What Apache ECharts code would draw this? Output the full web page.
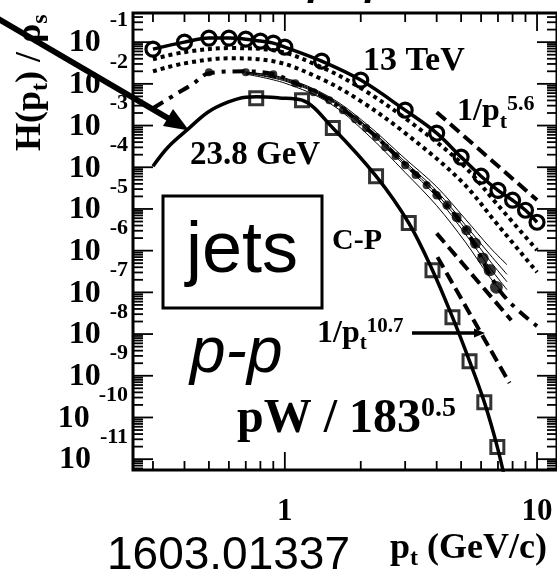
<!DOCTYPE html>
<html>
<head>
<meta charset="utf-8">
<script src="https://cdn.jsdelivr.net/npm/echarts@6/dist/echarts.min.js"></script>
<style>
html, body { margin: 0; padding: 0; background: #fff; }
#chart { width: 557px; height: 588px; }
</style>
</head>
<body>
<div id="chart"></div>
<script>
// Axis ranges (log-log)
const ptRange = [0.25, 12];
const hRange = [5.5e-12, 0.5];

// Tick definitions: decades and the multipliers drawn inside each decade
const tickDecades = [-12, -11, -10, -9, -8, -7, -6, -5, -4, -3, -2, -1, 0, 1];
const tickMultipliers = [1, 2, 3, 4, 5, 6, 7, 8, 9];
const xLabelValues = [1, 10];

// 13 TeV points
const pt13 = [0.3, 0.4, 0.5, 0.6, 0.7, 0.8, 0.9, 1.0, 1.4, 2, 3, 4, 5, 6, 7, 8, 9, 10];
const h13 = [6.8e-2, 0.1, 0.125, 0.125, 0.118, 0.106, 0.0946, 0.076, 0.035, 0.0123, 2.34e-3,
             6.6e-4, 1.75e-4, 6.1e-5, 2.8e-5, 1.62e-5, 9.3e-6, 4.8e-6];

// two dotted curves below the 13 TeV data
const ptDotA = [0.3, 0.4, 0.6, 0.9, 1.4, 2, 3, 5, 7, 10];
const hDotA = [3.9e-2, 5.75e-2, 7.2e-2, 6.4e-2, 2.5e-2, 7.9e-3, 1.5e-3, 1.26e-4, 1.23e-5, 1.03e-6];
const ptDotB = [0.3, 0.4, 0.6, 0.9, 1.4, 2, 3, 5, 7, 10];
const hDotB = [2.0e-2, 3.1e-2, 4.1e-2, 3.5e-2, 1.3e-2, 3.85e-3, 6.6e-4, 4.7e-5, 4.1e-6, 3.05e-7];

// dash-dot curve
const ptDashDot = [0.3, 0.37, 0.43, 0.5, 0.7, 0.9, 1.1, 1.5, 2.1, 3.0, 4.0, 5.2, 7.2, 10];
const hDashDot = [2.6e-3, 5.66e-3, 9.8e-3, 1.8e-2, 2.0e-2, 1.71e-2, 1.04e-2, 4.06e-3, 8.7e-4,
                  1.19e-4, 2.26e-5, 3.3e-6, 1.0e-7, 1.55e-8];

// filled points (C-P)
const ptCP = [0.5, 0.7, 0.9, 1.1, 1.3, 1.5, 1.7, 1.9, 2.1, 2.3, 2.5, 2.75, 3.0, 3.3, 3.65, 4.0,
              4.4, 4.8, 5.25, 5.7, 6.1, 6.5, 6.9];
const hCP = [1.91e-2, 1.91e-2, 1.71e-2, 1.04e-2, 6.3e-3, 4.06e-3, 2.34e-3, 1.42e-3, 8.7e-4, 5.3e-4,
             3.03e-4, 1.85e-4, 1.12e-4, 6.5e-5, 3.7e-5, 2.14e-5, 1.23e-5, 6.3e-6, 3.1e-6, 1.5e-6,
             6.6e-7, 3.4e-7, 1.32e-7];

// thin C-P fit curves
const ptCPFit = [0.7, 1.0, 1.5, 2.1, 3.0, 4.0, 5.2, 6.5, 7.6];
const hCPFit1 = [1.91e-2, 1.38e-2, 4.9e-3, 1.11e-3, 1.6e-4, 3.4e-5, 5.7e-6, 1.2e-6, 4.6e-7];
const hCPFit2 = [1.91e-2, 1.31e-2, 4.6e-3, 9.9e-4, 1.35e-4, 2.7e-5, 4.1e-6, 8.1e-7, 2.7e-7];
const hCPFit3 = [1.8e-2, 1.24e-2, 4.4e-3, 9.3e-4, 1.2e-4, 2.3e-5, 3.3e-6, 5.7e-7, 1.8e-7];
const hCPFit4 = [1.8e-2, 1.17e-2, 4.2e-3, 8.3e-4, 1.08e-4, 1.94e-5, 2.5e-6, 3.9e-7, 1.16e-7];
const hCPFit5 = [1.71e-2, 1.04e-2, 3.5e-3, 6.6e-4, 7.5e-5, 1.2e-5, 1.6e-6, 2.3e-7, 7.4e-8];

// power-law guide lines
const ptPow56 = [4.0, 10];
const hPow56 = [2.09e-3, 1.63e-5];
const ptPowMid = [4.0, 7.9];
const hPowMid = [2.6e-6, 2.15e-8];
const ptPow107 = [4.03, 7.78];
const hPow107 = [7.0e-7, 6.7e-10];

// 23.8 GeV points and curve
const pt238 = [0.77, 1.17, 1.55, 2.3, 3.1, 3.85, 4.62, 5.4, 6.18, 6.96];
const h238 = [4.5e-3, 4.06e-3, 8.7e-4, 6.1e-5, 4.6e-6, 3.4e-7, 2.54e-8, 2.24e-9, 2.33e-10, 1.95e-11];
const pt238Fit = [0.3, 0.344, 0.413, 0.495, 0.594, 0.7, 0.77, 0.95, 1.17, 1.55, 2.3, 3.1, 3.85,
                  4.62, 5.4, 6.18, 6.96, 7.6];
const h238Fit = [1.06e-4, 3.03e-4, 8.2e-4, 2.09e-3, 3.64e-3, 4.8e-3, 4.9e-3, 4.6e-3, 4.06e-3,
                 8.7e-4, 6.1e-5, 4.6e-6, 3.4e-7, 2.54e-8, 2.24e-9, 2.33e-10, 1.95e-11, 2e-12];

const SERIF = '"Liberation Serif", "Times New Roman", serif';
const SANS = '"Liberation Sans", Arial, sans-serif';

function pairs(xs, ys) { return xs.map((x, i) => [x, ys[i]]); }
function isDecade(v) {
  const e = Math.log10(v);
  return Math.abs(e - Math.round(e)) < 1e-9;
}

// tick values inside each axis range
const xTicks = [], yTicks = [];
tickDecades.forEach(d => tickMultipliers.forEach(m => {
  const v = m * Math.pow(10, d);
  if (v > ptRange[0] * 1.0001 && v < ptRange[1] * 0.9999) xTicks.push([v, hRange[0]]);
  if (v > hRange[0] * 1.0001 && v < hRange[1] * 0.9999) yTicks.push([ptRange[0], v]);
}));

function lineStyleSeries(name, xs, ys, lineStyle, extra) {
  return Object.assign({
    name, type: 'line', data: pairs(xs, ys), showSymbol: false, symbol: 'none',
    lineStyle: Object.assign({ color: '#000' }, lineStyle), smooth: 0.35, silent: true
  }, extra || {});
}

const chart = echarts.init(document.getElementById('chart'), null, { renderer: 'canvas' });

const option = {
  animation: false,
  backgroundColor: '#fff',
  grid: {
    left: 133, top: 13, width: 424.7, height: 457,
    show: true, borderColor: '#000', borderWidth: 3, backgroundColor: 'transparent'
  },
  xAxis: {
    type: 'log', logBase: 10, min: ptRange[0], max: ptRange[1],
    axisLine: { show: false }, axisTick: { show: false }, axisLabel: { show: false },
    splitLine: { show: false }, minorTick: { show: false }
  },
  yAxis: {
    type: 'log', logBase: 10, min: hRange[0], max: hRange[1],
    axisLine: { show: false }, axisTick: { show: false }, axisLabel: { show: false },
    splitLine: { show: false }, minorTick: { show: false }
  },
  series: [
    // y ticks on both sides, with 10^n labels on the left
    {
      type: 'custom', silent: true, clip: false, data: yTicks,
      renderItem(params, api) {
        const cs = params.coordSys;
        const v = api.value(1);
        const y = api.coord([api.value(0), v])[1];
        const major = isDecade(v);
        const len = major ? 20 : 10;
        const lw = 1.8;
        const children = [
          { type: 'line', shape: { x1: cs.x, y1: y, x2: cs.x + len, y2: y }, style: { stroke: '#000', lineWidth: lw } },
          { type: 'line', shape: { x1: cs.x + cs.width, y1: y, x2: cs.x + cs.width - len, y2: y }, style: { stroke: '#000', lineWidth: lw } }
        ];
        if (major) {
          const e = Math.round(Math.log10(v));
          children.push({
            type: 'text', x: cs.x - 5, y: y,
            style: {
              text: '{b|10}{s|' + e + '}',
              align: 'right', verticalAlign: 'middle', fill: '#000',
              rich: {
                b: { fontFamily: SERIF, fontWeight: 'bold', fontSize: 32, lineHeight: 32, padding: [2, 9, 0, 0], fill: '#000' },
                s: { fontFamily: SERIF, fontWeight: 'bold', fontSize: 22, lineHeight: 22, padding: [0, 0, 44, 0], fill: '#000' }
              }
            }
          });
        }
        return { type: 'group', children };
      }
    },
    // x ticks on bottom and top, labels at decades
    {
      type: 'custom', silent: true, clip: false, data: xTicks,
      renderItem(params, api) {
        const cs = params.coordSys;
        const v = api.value(0);
        const x = api.coord([v, api.value(1)])[0];
        const major = isDecade(v);
        const len = major ? 18 : 9;
        const lw = 1.8;
        const bottom = cs.y + cs.height;
        const children = [
          { type: 'line', shape: { x1: x, y1: bottom, x2: x, y2: bottom - len }, style: { stroke: '#000', lineWidth: lw } },
          { type: 'line', shape: { x1: x, y1: cs.y, x2: x, y2: cs.y + len }, style: { stroke: '#000', lineWidth: lw } }
        ];
        if (xLabelValues.some(l => Math.abs(l - v) < 1e-9)) {
          children.push({
            type: 'text', x: x, y: bottom + 42,
            style: { text: String(Math.round(v)), align: 'center', verticalAlign: 'middle', fill: '#000',
                     font: 'bold 31px ' + SERIF }
          });
        }
        return { type: 'group', children };
      }
    },
    lineStyleSeries('dotted A', ptDotA, hDotA, { width: 4, type: [4, 4] }),
    lineStyleSeries('dotted B', ptDotB, hDotB, { width: 4, type: [4, 4] }),
    lineStyleSeries('dash-dot', ptDashDot, hDashDot, { width: 4, type: [12, 7, 4, 7] }),
    lineStyleSeries('C-P fit 1', ptCPFit, hCPFit1, { width: 1 }),
    lineStyleSeries('C-P fit 2', ptCPFit, hCPFit2, { width: 1 }),
    lineStyleSeries('C-P fit 3', ptCPFit, hCPFit3, { width: 1 }),
    lineStyleSeries('C-P fit 4', ptCPFit, hCPFit4, { width: 1 }),
    lineStyleSeries('C-P fit 5', ptCPFit, hCPFit5, { width: 1 }),
    lineStyleSeries('1/pt^5.6', ptPow56, hPow56, { width: 4, type: [12, 6] }, { smooth: false }),
    lineStyleSeries('power mid', ptPowMid, hPowMid, { width: 4, type: [12, 6] }, { smooth: false }),
    lineStyleSeries('1/pt^10.7', ptPow107, hPow107, { width: 4, type: [12, 6] }, { smooth: false }),
    lineStyleSeries('23.8 GeV fit', pt238Fit, h238Fit, { width: 3.5 }),
    {
      name: 'C-P', type: 'scatter', silent: true, data: pairs(ptCP, hCP), symbol: 'circle',
      symbolSize: (val, p) => 8 + Math.max(0, p.dataIndex - 14) * 0.6,
      itemStyle: { color: '#000' }
    },
    {
      name: '23.8 GeV', type: 'scatter', silent: true, data: pairs(pt238, h238), symbol: 'rect', symbolSize: 13,
      itemStyle: { color: 'rgba(255,255,255,0)', borderColor: '#000', borderWidth: 3 }
    },
    {
      name: '13 TeV', type: 'line', silent: true, data: pairs(pt13, h13), smooth: 0.35,
      symbol: 'circle', symbolSize: 14, showSymbol: true,
      lineStyle: { color: '#000', width: 3.5 },
      itemStyle: { color: 'rgba(255,255,255,0)', borderColor: '#000', borderWidth: 3.2 }
    }
  ],
  graphic: [
    // partially visible heading above the frame
    { type: 'text', x: 309, y: -28, style: { text: 'p-p', font: 'italic 64px ' + SANS, fill: '#000', align: 'left', verticalAlign: 'middle' } },
    // y-axis title
    {
      type: 'text', x: 31, y: 151, rotation: Math.PI / 2,
      style: {
        text: '{n|H(p}{d|t}{n|) / ρ}{d|s}', align: 'left', verticalAlign: 'middle', fill: '#000',
        rich: {
          n: { fontFamily: SERIF, fontWeight: 'bold', fontSize: 36, fill: '#000', lineHeight: 36 },
          d: { fontFamily: SERIF, fontWeight: 'bold', fontSize: 24, fill: '#000', lineHeight: 24, padding: [20, 0, 0, 0] }
        }
      }
    },
    // x-axis title
    {
      type: 'text', x: 390, y: 549,
      style: {
        text: '{n|p}{d|t}{n| (GeV/c)}', align: 'left', verticalAlign: 'middle', fill: '#000',
        rich: {
          n: { fontFamily: SERIF, fontWeight: 'bold', fontSize: 36, fill: '#000', lineHeight: 36 },
          d: { fontFamily: SERIF, fontWeight: 'bold', fontSize: 24, fill: '#000', lineHeight: 24, padding: [20, 0, 0, 0] }
        }
      }
    },
    { type: 'text', x: 107, y: 556, style: { text: '1603.01337', font: '46px ' + SANS, fill: '#000', align: 'left', verticalAlign: 'middle' } },
    // annotations
    { type: 'text', x: 363, y: 61, style: { text: '13 TeV', font: 'bold 34px ' + SERIF, fill: '#000', align: 'left', verticalAlign: 'middle' } },
    { type: 'text', x: 190, y: 155, style: { text: '23.8 GeV', font: 'bold 33px ' + SERIF, fill: '#000', align: 'left', verticalAlign: 'middle' } },
    {
      type: 'text', x: 457, y: 112,
      style: {
        text: '{n|1/p}{d|t}{u|5.6}', align: 'left', verticalAlign: 'middle', fill: '#000',
        rich: {
          n: { fontFamily: SERIF, fontWeight: 'bold', fontSize: 32, fill: '#000', lineHeight: 32 },
          d: { fontFamily: SERIF, fontWeight: 'bold', fontSize: 22, fill: '#000', lineHeight: 22, padding: [20, 0, 0, 0] },
          u: { fontFamily: SERIF, fontWeight: 'bold', fontSize: 22, fill: '#000', lineHeight: 22, padding: [0, 0, 16, 0] }
        }
      }
    },
    { type: 'text', x: 332, y: 241, style: { text: 'C-P', font: 'bold 30px ' + SERIF, fill: '#000', align: 'left', verticalAlign: 'middle' } },
    {
      type: 'text', x: 317, y: 334,
      style: {
        text: '{n|1/p}{d|t}{u|10.7}', align: 'left', verticalAlign: 'middle', fill: '#000',
        rich: {
          n: { fontFamily: SERIF, fontWeight: 'bold', fontSize: 32, fill: '#000', lineHeight: 32 },
          d: { fontFamily: SERIF, fontWeight: 'bold', fontSize: 21, fill: '#000', lineHeight: 21, padding: [20, 0, 0, 0] },
          u: { fontFamily: SERIF, fontWeight: 'bold', fontSize: 21, fill: '#000', lineHeight: 21, padding: [0, 0, 14, 0] }
        }
      }
    },
    {
      type: 'text', x: 237, y: 420,
      style: {
        text: '{n|pW / 183}{u|0.5}', align: 'left', verticalAlign: 'middle', fill: '#000',
        rich: {
          n: { fontFamily: SERIF, fontWeight: 'bold', fontSize: 48, fill: '#000', lineHeight: 48 },
          u: { fontFamily: SERIF, fontWeight: 'bold', fontSize: 28, fill: '#000', lineHeight: 28, padding: [0, 0, 22, 0] }
        }
      }
    },
    { type: 'text', x: 190, y: 354, style: { text: 'p-p', font: 'italic 64px ' + SANS, fill: '#000', align: 'left', verticalAlign: 'middle' } },
    // boxed label
    { type: 'rect', shape: { x: 163, y: 196, width: 159, height: 112 }, style: { fill: 'none', stroke: '#000', lineWidth: 3 } },
    { type: 'text', x: 242, y: 252, style: { text: 'jets', font: '72px ' + SANS, fill: '#000', align: 'center', verticalAlign: 'middle' } },
    // big arrow towards the 23.8 GeV curve
    { type: 'line', shape: { x1: -10, y1: 14, x2: 172, y2: 120.5 }, style: { stroke: '#000', lineWidth: 6 } },
    { type: 'polygon', shape: { points: [[189, 130.5], [163, 126], [173, 109]] }, style: { fill: '#000' } },
    // arrow for the 1/pt^10.7 line
    { type: 'line', shape: { x1: 412, y1: 333, x2: 476, y2: 333 }, style: { stroke: '#000', lineWidth: 3.5 } },
    { type: 'polygon', shape: { points: [[485, 333], [474, 328.5], [474, 337.5]] }, style: { fill: '#000' } }
  ]
};

chart.setOption(option);
</script>
</body>
</html>
